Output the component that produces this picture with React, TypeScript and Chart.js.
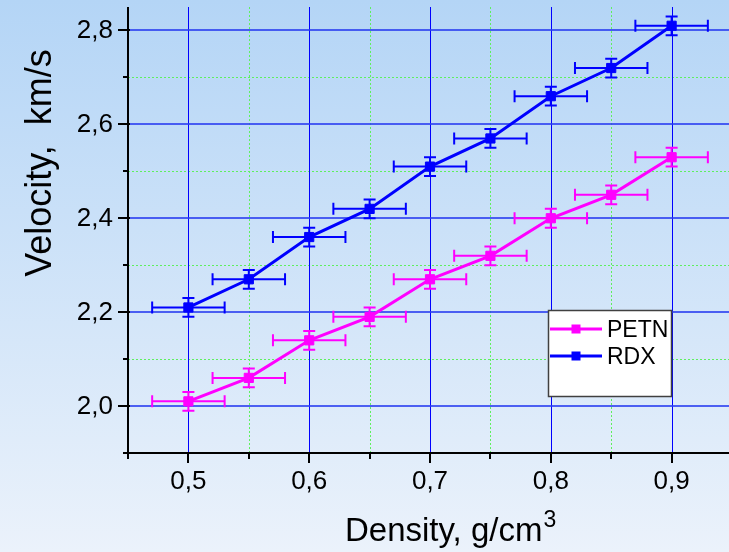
import { useEffect, useRef } from "react";
import { Chart, registerables } from "chart.js";

Chart.register(...registerables);

// Detonation velocity vs. charge density
const densities = [0.5, 0.55, 0.6, 0.65, 0.7, 0.75, 0.8, 0.85, 0.9];
const petnVelocity = [2.01, 2.06, 2.14, 2.19, 2.27, 2.32, 2.4, 2.45, 2.53];
const rdxVelocity = [2.21, 2.27, 2.36, 2.42, 2.51, 2.57, 2.66, 2.72, 2.81];
const densityError = 0.03;
const velocityError = 0.02;

const xMajorTicks = [0.5, 0.6, 0.7, 0.8, 0.9];
const xMinorTicks = [0.45, 0.55, 0.65, 0.75, 0.85];
const yMajorTicks = [2.0, 2.2, 2.4, 2.6, 2.8];
const yMinorTicks = [1.9, 2.1, 2.3, 2.5, 2.7];

const seriesNames = ["PETN", "RDX"];
const seriesColors = ["#ff00ff", "#0000ff"];

const FONT = '"Liberation Sans", Arial, Helvetica, sans-serif';
const fmt = (v: number) => Number(v).toFixed(1).replace(".", ",");

const decor = {
  id: "decor",
  beforeDraw(chart: any) {
    const { ctx, width, height } = chart;
    const g = ctx.createLinearGradient(0, 0, 0, height);
    g.addColorStop(0, "#b4d5f6");
    g.addColorStop(1, "#ebf2fb");
    ctx.save();
    ctx.fillStyle = g;
    ctx.fillRect(0, 0, width, height);
    ctx.restore();
  },
  beforeDatasetsDraw(chart: any) {
    const { ctx, chartArea: a, scales } = chart;
    const xs = scales.x;
    const ys = scales.y;
    ctx.save();
    // minor grid: dotted green
    ctx.strokeStyle = "#5ef05e";
    ctx.lineWidth = 1;
    ctx.setLineDash([2, 2]);
    xMinorTicks.forEach((v) => {
      if (v <= xs.min) return;
      const x = Math.round(xs.getPixelForValue(v)) + 0.5;
      ctx.beginPath();
      ctx.moveTo(x, a.top);
      ctx.lineTo(x, a.bottom);
      ctx.stroke();
    });
    yMinorTicks.forEach((v) => {
      if (v <= ys.min) return;
      const y = Math.round(ys.getPixelForValue(v)) + 0.5;
      ctx.beginPath();
      ctx.moveTo(a.left, y);
      ctx.lineTo(a.right, y);
      ctx.stroke();
    });
    ctx.setLineDash([]);
    // major grid: blue
    ctx.strokeStyle = "#0000ff";
    ctx.lineWidth = 1;
    xMajorTicks.forEach((v) => {
      const x = Math.round(xs.getPixelForValue(v)) + 0.5;
      ctx.beginPath();
      ctx.moveTo(x, a.top);
      ctx.lineTo(x, a.bottom);
      ctx.stroke();
    });
    ctx.strokeStyle = "rgba(40,60,240,0.8)";
    ctx.lineWidth = 2;
    yMajorTicks.forEach((v) => {
      const y = Math.round(ys.getPixelForValue(v));
      ctx.beginPath();
      ctx.moveTo(a.left, y);
      ctx.lineTo(a.right, y);
      ctx.stroke();
    });

    // error bars
    const sets = [petnVelocity, rdxVelocity];
    ctx.lineWidth = 2;
    sets.forEach((vals, si) => {
      ctx.strokeStyle = seriesColors[si];
      vals.forEach((v, i) => {
        const d = densities[i];
        const x0 = xs.getPixelForValue(d - densityError);
        const x1 = xs.getPixelForValue(d + densityError);
        const xc = xs.getPixelForValue(d);
        const yc = ys.getPixelForValue(v);
        const y0 = ys.getPixelForValue(v - velocityError);
        const y1 = ys.getPixelForValue(v + velocityError);
        const cap = 6;
        ctx.beginPath();
        ctx.moveTo(x0, yc);
        ctx.lineTo(x1, yc);
        ctx.moveTo(x0, yc - cap);
        ctx.lineTo(x0, yc + cap);
        ctx.moveTo(x1, yc - cap);
        ctx.lineTo(x1, yc + cap);
        ctx.moveTo(xc, y0);
        ctx.lineTo(xc, y1);
        ctx.moveTo(xc - cap, y0);
        ctx.lineTo(xc + cap, y0);
        ctx.moveTo(xc - cap, y1);
        ctx.lineTo(xc + cap, y1);
        ctx.stroke();
      });
    });
    ctx.restore();
  },
  afterDraw(chart: any) {
    const { ctx, chartArea: a, scales } = chart;
    const xs = scales.x;
    const ys = scales.y;
    ctx.save();
    ctx.strokeStyle = "#000";
    ctx.lineWidth = 2;
    // axis lines
    ctx.beginPath();
    ctx.moveTo(a.left, a.top);
    ctx.lineTo(a.left, a.bottom);
    ctx.moveTo(a.left - 5, a.bottom);
    ctx.lineTo(a.right, a.bottom);
    ctx.stroke();
    // y ticks
    ctx.beginPath();
    yMajorTicks.forEach((v) => {
      const y = Math.round(ys.getPixelForValue(v));
      ctx.moveTo(a.left - 10, y);
      ctx.lineTo(a.left + 2, y);
    });
    yMinorTicks.forEach((v) => {
      const y = Math.round(ys.getPixelForValue(v));
      ctx.moveTo(a.left - 5, y);
      ctx.lineTo(a.left, y);
    });
    // x ticks
    xMajorTicks.forEach((v) => {
      const x = Math.round(xs.getPixelForValue(v));
      ctx.moveTo(x, a.bottom);
      ctx.lineTo(x, a.bottom + 10);
    });
    xMinorTicks.forEach((v) => {
      const x = Math.round(xs.getPixelForValue(v));
      ctx.moveTo(x, a.bottom);
      ctx.lineTo(x, a.bottom + 6);
    });
    ctx.stroke();

    // tick labels
    ctx.fillStyle = "#000";
    ctx.textBaseline = "alphabetic";
    ctx.font = `26px ${FONT}`;
    ctx.textAlign = "right";
    yMajorTicks.forEach((v) => {
      ctx.fillText(fmt(v), a.left - 15, ys.getPixelForValue(v) + 7.5);
    });
    ctx.textAlign = "center";
    xMajorTicks.forEach((v) => {
      ctx.fillText(fmt(v), xs.getPixelForValue(v), a.bottom + 36);
    });

    // axis titles
    ctx.save();
    ctx.translate(51, 163);
    ctx.rotate(-Math.PI / 2);
    ctx.textAlign = "center";
    ctx.font = `36px ${FONT}`;
    ctx.fillText("Velocity,  km/s", 0, 0);
    ctx.restore();

    ctx.textAlign = "left";
    ctx.font = `33px ${FONT}`;
    const main = "Density, g/cm";
    ctx.fillText(main, 345, 541);
    const w = ctx.measureText(main).width;
    ctx.font = `23px ${FONT}`;
    ctx.fillText("3", 345 + w + 1, 527);

    // legend
    const lx = 548.5;
    const ly = 310.5;
    ctx.fillStyle = "#ffffff";
    ctx.fillRect(lx, ly, 123, 86);
    ctx.strokeStyle = "#404040";
    ctx.lineWidth = 1.5;
    ctx.strokeRect(lx, ly, 123, 86);
    const rows = [329, 356];
    seriesNames.forEach((name, i) => {
      const y = rows[i];
      ctx.strokeStyle = seriesColors[i];
      ctx.lineWidth = 3;
      ctx.beginPath();
      ctx.moveTo(550, y);
      ctx.lineTo(602, y);
      ctx.stroke();
      ctx.fillStyle = seriesColors[i];
      ctx.fillRect(571.5, y - 4.5, 9, 9);
      ctx.fillStyle = "#000";
      ctx.font = `23px ${FONT}`;
      ctx.fillText(name, 607, y + 8);
    });
    ctx.restore();
  },
};

export default function App() {
  const ref = useRef<HTMLCanvasElement | null>(null);

  useEffect(() => {
    if (!ref.current) return;
    const series = [petnVelocity, rdxVelocity];
    const chart = new Chart(ref.current, {
      type: "line",
      data: {
        datasets: series.map((vals, si) => ({
          label: seriesNames[si],
          data: densities.map((x, i) => ({ x, y: vals[i] })),
          borderColor: seriesColors[si],
          backgroundColor: seriesColors[si],
          borderWidth: 3,
          pointStyle: "rect",
          pointRadius: 6.5,
          pointBorderWidth: 1,
          tension: 0,
        })),
      },
      options: {
        responsive: false,
        animation: false,
        layout: { autoPadding: false, padding: { top: 7, left: 0, right: 0, bottom: 0 } },
        plugins: { legend: { display: false }, tooltip: { enabled: false } },
        scales: {
          x: {
            type: "linear",
            min: 0.45,
            max: 0.9475,
            grid: { display: false, drawTicks: false },
            border: { display: false },
            ticks: { display: false },
            afterFit: (s: any) => {
              s.height = 99;
            },
          },
          y: {
            type: "linear",
            min: 1.9,
            max: 2.85,
            grid: { display: false, drawTicks: false },
            border: { display: false },
            ticks: { display: false },
            afterFit: (s: any) => {
              s.width = 128;
            },
          },
        },
      },
      plugins: [decor],
    } as any);
    return () => chart.destroy();
  }, []);

  return (
    <div style={{ position: "fixed", left: 0, top: 0, width: 729, height: 552 }}>
      <canvas ref={ref} width={729} height={552} style={{ display: "block" }} />
    </div>
  );
}
